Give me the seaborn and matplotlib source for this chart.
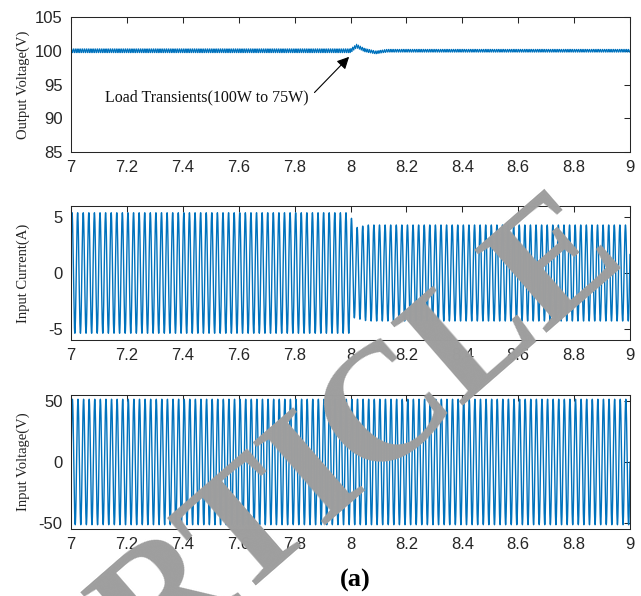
import numpy as np
import pandas as pd
import matplotlib
matplotlib.use("Agg")
import matplotlib.pyplot as plt
import seaborn as sns

# ---------------- data ----------------
t_start, t_end = 7.0, 9.0
line_freq_hz = 50.0            # input waveforms (about 100 cycles over 2 s)
ripple_freq_hz = 150.0         # output-voltage ripple

# Output voltage: mean level key points (transient at t = 8 s)
vout_key_t = [7.0, 8.0, 8.022, 8.05, 8.09, 8.13, 9.0]
vout_key_v = [100.0, 100.0, 100.7, 100.1, 99.75, 100.0, 100.0]
vout_ripple_t = [7.0, 8.0, 8.1, 9.0]
vout_ripple_a = [0.30, 0.30, 0.22, 0.22]

# Input current: peak envelope key points (100 W -> 75 W)
iin_key_t = [7.0, 8.0, 8.01, 8.06, 9.0]
iin_key_a = [5.4, 5.4, 4.0, 4.3, 4.3]

# Input voltage: peak envelope
vin_key_t = [7.0, 9.0]
vin_key_a = [51.5, 51.5]

x_ticks = [7, 7.2, 7.4, 7.6, 7.8, 8, 8.2, 8.4, 8.6, 8.8, 9]
x_ticklabels = ["7", "7.2", "7.4", "7.6", "7.8", "8", "8.2", "8.4", "8.6", "8.8", "9"]
ax1_yticks = [85, 90, 95, 100, 105]
ax2_yticks = [-5, 0, 5]
ax3_yticks = [-50, 0, 50]

ylabels = ["Output Voltage(V)", "Input Current(A)", "Input Voltage(V)"]
annot_text = "Load Transients(100W to 75W)"
caption = "(a)"
watermark = "ARTICLE"

# ---------------- build waveforms ----------------
t = np.linspace(t_start, t_end, 40001)
vout = np.interp(t, vout_key_t, vout_key_v) + \
    np.interp(t, vout_ripple_t, vout_ripple_a) * np.sin(2 * np.pi * ripple_freq_hz * t)
iin = np.interp(t, iin_key_t, iin_key_a) * np.sin(2 * np.pi * line_freq_hz * t + 0.4)
vin = np.interp(t, vin_key_t, vin_key_a) * np.sin(2 * np.pi * line_freq_hz * t)
df = pd.DataFrame({"t": t, "vout": vout, "iin": iin, "vin": vin})

# ---------------- figure ----------------
sns.set_style("white")
plt.rcParams["axes.linewidth"] = 0.75

W, H = 641, 596
fig = plt.figure(figsize=(W / 100, H / 100), dpi=100)

def frac(left, top, right, bottom):
    return [left / W, 1 - bottom / H, (right - left) / W, (bottom - top) / H]

ax1 = fig.add_axes(frac(71, 17, 630, 152))
ax2 = fig.add_axes(frac(71, 206, 630, 340))
ax3 = fig.add_axes(frac(71, 395, 630, 529))

blue = "#0072BD"
tick_font = ["Liberation Sans Narrow", "Liberation Sans", "DejaVu Sans"]
serif = ["Liberation Serif", "DejaVu Serif"]

for ax, col, yl, yt, lab, lw in [
    (ax1, "vout", (85, 105), ax1_yticks, ylabels[0], 0.7),
    (ax2, "iin", (-6, 6), ax2_yticks, ylabels[1], 1.0),
    (ax3, "vin", (-55, 55), ax3_yticks, ylabels[2], 1.0),
]:
    sns.lineplot(data=df, x="t", y=col, ax=ax, color=blue, linewidth=lw,
                 estimator=None, sort=False)
    ax.set_xlim(t_start, t_end)
    ax.set_ylim(*yl)
    ax.set_xticks(x_ticks)
    ax.set_xticklabels(x_ticklabels)
    ax.set_yticks(yt)
    ax.set_yticklabels([str(v) for v in yt])
    ax.tick_params(direction="in", length=4, width=0.75, top=True, right=True,
                   color="#262626", pad=6, labelsize=12)
    for lbl in ax.get_xticklabels() + ax.get_yticklabels():
        lbl.set_family(tick_font)
        lbl.set_color("#262626")
    for s in ax.spines.values():
        s.set_color("#262626")
        s.set_linewidth(0.75)
    ax.set_xlabel("")
    ax.set_ylabel(lab, family=serif, fontsize=10.5, color="#222222")
    ax.yaxis.set_label_coords(-0.074, 0.5)

ax1.annotate(annot_text, xy=(7.995, 99.1), xytext=(7.485, 93.1),
             ha="center", va="center", family=serif, fontsize=11.5, color="#111111",
             arrowprops=dict(arrowstyle="-|>", color="black", lw=0.8,
                             mutation_scale=18, shrinkA=0, shrinkB=0,
                             patchA=None, relpos=(1.03, 0.8)))

fig.text(355 / W, 1 - 580 / H, caption, ha="center", va="center",
         family=serif, fontweight="bold", fontsize=19, color="black")

fig.text(318 / W, 1 - 477 / H, watermark, ha="center", va="center",
         rotation=41, rotation_mode="anchor", family=serif, fontweight="bold",
         fontsize=120, color="#9e9e9e", zorder=10)

fig.savefig("out.png", dpi=100)
